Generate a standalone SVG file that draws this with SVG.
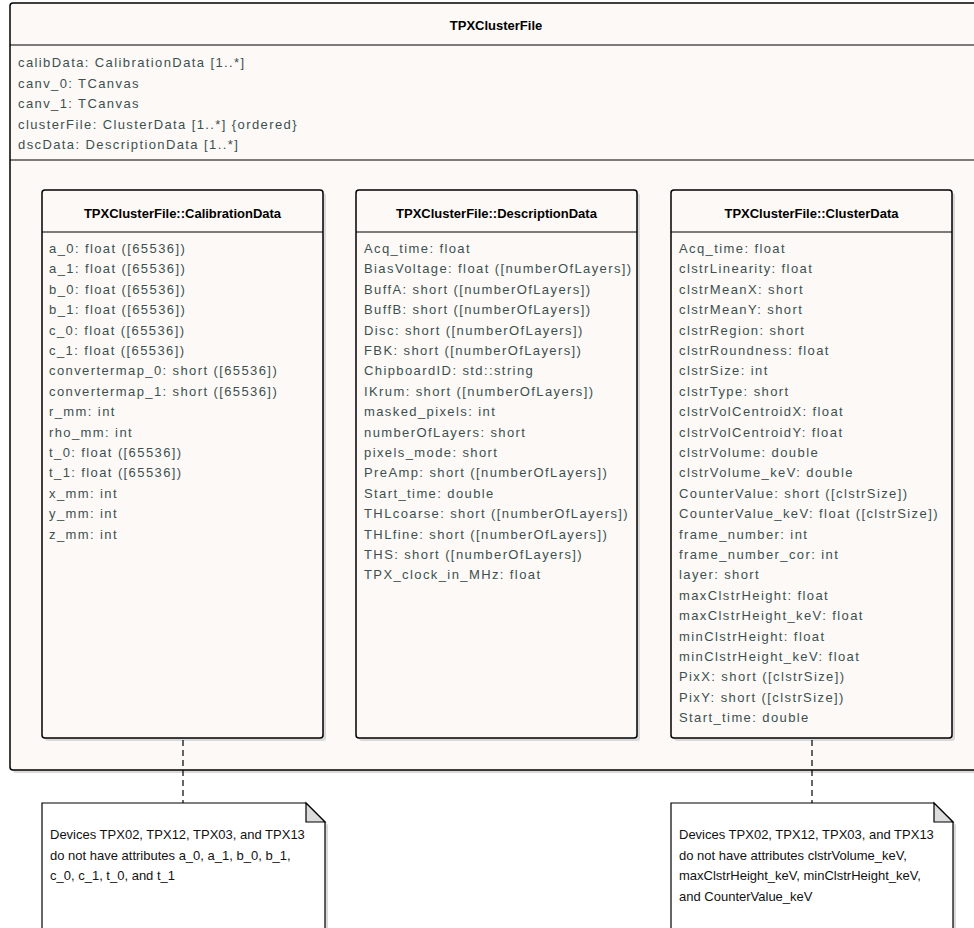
<svg xmlns="http://www.w3.org/2000/svg" width="974" height="928" viewBox="0 0 974 928">
  <style>
    .box { fill: #fcf9f6; stroke: #000; stroke-width: 1.5; }
    .shadow { fill: #d9d9d9; }
    .sep { stroke: #000; stroke-width: 1.2; }
    .title { font-family: "Liberation Sans", Arial, sans-serif; font-size: 13px; font-weight: bold; fill: #000; text-anchor: middle; }
    .attr { font-family: "Liberation Sans", Arial, sans-serif; font-size: 13px; fill: #3c5050; letter-spacing: 1.4px; }
    .note { fill: #ffffff; stroke: #000; stroke-width: 1.2; }
    .fold { fill: #dcdcdc; stroke: #000; stroke-width: 1.2; }
    .notetext { font-family: "Liberation Sans", Arial, sans-serif; font-size: 13px; fill: #111; }
    .link { stroke: #000; stroke-width: 1.2; stroke-dasharray: 6 4; fill: none; }
  </style>

  <rect width="974" height="928" fill="#ffffff"/>

  <!-- Enclosing class TPXClusterFile -->
  <g id="TPXClusterFile">
    <rect class="shadow" x="13" y="6" width="972" height="767" rx="3"/>
    <rect class="box" x="10" y="3" width="972" height="767" rx="3"/>
    <line class="sep" x1="10" y1="45" x2="982" y2="45"/>
    <line class="sep" x1="10" y1="160" x2="982" y2="160"/>
    <text class="title" x="496" y="30">TPXClusterFile</text>
    <text class="attr" x="18" y="67">calibData: CalibrationData [1..*]</text>
    <text class="attr" x="18" y="87.5">canv_0: TCanvas</text>
    <text class="attr" x="18" y="108">canv_1: TCanvas</text>
    <text class="attr" x="18" y="128.5">clusterFile: ClusterData [1..*] {ordered}</text>
    <text class="attr" x="18" y="149">dscData: DescriptionData [1..*]</text>
  </g>

  <!-- Nested class CalibrationData -->
  <g id="CalibrationData">
    <rect class="shadow" x="45" y="193" width="281" height="548" rx="3"/>
    <rect class="box" x="42" y="190" width="281" height="548" rx="3"/>
    <line class="sep" x1="42" y1="232" x2="323" y2="232"/>
    <text class="title" x="182.5" y="218">TPXClusterFile::CalibrationData</text>
    <text class="attr" x="49" y="253">a_0: float ([65536])</text>
    <text class="attr" x="49" y="273.4">a_1: float ([65536])</text>
    <text class="attr" x="49" y="293.8">b_0: float ([65536])</text>
    <text class="attr" x="49" y="314.2">b_1: float ([65536])</text>
    <text class="attr" x="49" y="334.6">c_0: float ([65536])</text>
    <text class="attr" x="49" y="355">c_1: float ([65536])</text>
    <text class="attr" x="49" y="375.4">convertermap_0: short ([65536])</text>
    <text class="attr" x="49" y="395.8">convertermap_1: short ([65536])</text>
    <text class="attr" x="49" y="416.2">r_mm: int</text>
    <text class="attr" x="49" y="436.6">rho_mm: int</text>
    <text class="attr" x="49" y="457">t_0: float ([65536])</text>
    <text class="attr" x="49" y="477.4">t_1: float ([65536])</text>
    <text class="attr" x="49" y="497.8">x_mm: int</text>
    <text class="attr" x="49" y="518.2">y_mm: int</text>
    <text class="attr" x="49" y="538.6">z_mm: int</text>
  </g>

  <!-- Nested class DescriptionData -->
  <g id="DescriptionData">
    <rect class="shadow" x="359" y="193" width="281" height="548" rx="3"/>
    <rect class="box" x="356" y="190" width="281" height="548" rx="3"/>
    <line class="sep" x1="356" y1="232" x2="637" y2="232"/>
    <text class="title" x="496.5" y="218">TPXClusterFile::DescriptionData</text>
    <text class="attr" x="364" y="253">Acq_time: float</text>
    <text class="attr" x="364" y="273.4">BiasVoltage: float ([numberOfLayers])</text>
    <text class="attr" x="364" y="293.8">BuffA: short ([numberOfLayers])</text>
    <text class="attr" x="364" y="314.2">BuffB: short ([numberOfLayers])</text>
    <text class="attr" x="364" y="334.6">Disc: short ([numberOfLayers])</text>
    <text class="attr" x="364" y="355">FBK: short ([numberOfLayers])</text>
    <text class="attr" x="364" y="375.4">ChipboardID: std::string</text>
    <text class="attr" x="364" y="395.8">IKrum: short ([numberOfLayers])</text>
    <text class="attr" x="364" y="416.2">masked_pixels: int</text>
    <text class="attr" x="364" y="436.6">numberOfLayers: short</text>
    <text class="attr" x="364" y="457">pixels_mode: short</text>
    <text class="attr" x="364" y="477.4">PreAmp: short ([numberOfLayers])</text>
    <text class="attr" x="364" y="497.8">Start_time: double</text>
    <text class="attr" x="364" y="518.2">THLcoarse: short ([numberOfLayers])</text>
    <text class="attr" x="364" y="538.6">THLfine: short ([numberOfLayers])</text>
    <text class="attr" x="364" y="559">THS: short ([numberOfLayers])</text>
    <text class="attr" x="364" y="579.4">TPX_clock_in_MHz: float</text>
  </g>

  <!-- Nested class ClusterData -->
  <g id="ClusterData">
    <rect class="shadow" x="674" y="193" width="281" height="548" rx="3"/>
    <rect class="box" x="671" y="190" width="281" height="548" rx="3"/>
    <line class="sep" x1="671" y1="232" x2="952" y2="232"/>
    <text class="title" x="811.5" y="218">TPXClusterFile::ClusterData</text>
    <text class="attr" x="679" y="253">Acq_time: float</text>
    <text class="attr" x="679" y="273.4">clstrLinearity: float</text>
    <text class="attr" x="679" y="293.8">clstrMeanX: short</text>
    <text class="attr" x="679" y="314.2">clstrMeanY: short</text>
    <text class="attr" x="679" y="334.6">clstrRegion: short</text>
    <text class="attr" x="679" y="355">clstrRoundness: float</text>
    <text class="attr" x="679" y="375.4">clstrSize: int</text>
    <text class="attr" x="679" y="395.8">clstrType: short</text>
    <text class="attr" x="679" y="416.2">clstrVolCentroidX: float</text>
    <text class="attr" x="679" y="436.6">clstrVolCentroidY: float</text>
    <text class="attr" x="679" y="457">clstrVolume: double</text>
    <text class="attr" x="679" y="477.4">clstrVolume_keV: double</text>
    <text class="attr" x="679" y="497.8">CounterValue: short ([clstrSize])</text>
    <text class="attr" x="679" y="518.2">CounterValue_keV: float ([clstrSize])</text>
    <text class="attr" x="679" y="538.6">frame_number: int</text>
    <text class="attr" x="679" y="559">frame_number_cor: int</text>
    <text class="attr" x="679" y="579.4">layer: short</text>
    <text class="attr" x="679" y="599.8">maxClstrHeight: float</text>
    <text class="attr" x="679" y="620.2">maxClstrHeight_keV: float</text>
    <text class="attr" x="679" y="640.6">minClstrHeight: float</text>
    <text class="attr" x="679" y="661">minClstrHeight_keV: float</text>
    <text class="attr" x="679" y="681.4">PixX: short ([clstrSize])</text>
    <text class="attr" x="679" y="701.8">PixY: short ([clstrSize])</text>
    <text class="attr" x="679" y="722.2">Start_time: double</text>
  </g>

  <!-- Note attachments -->
  <g id="connectors">
    <line class="link" x1="183" y1="740" x2="183" y2="803"/>
    <line class="link" x1="812" y1="740" x2="812" y2="803"/>
  </g>

  <!-- Note on CalibrationData -->
  <g id="NoteCalibration">
    <path class="shadow" d="M45 806 H309 L328 825 V931 H45 Z"/>
    <path class="note" d="M42 803 H306 L325 822 V930 H42 Z"/>
    <path class="fold" d="M306 803 V822 H325 Z"/>
    <text class="notetext" x="50" y="839">Devices TPX02, TPX12, TPX03, and TPX13</text>
    <text class="notetext" x="50" y="859.5">do not have attributes a_0, a_1, b_0, b_1,</text>
    <text class="notetext" x="50" y="880">c_0, c_1, t_0, and t_1</text>
  </g>

  <!-- Note on ClusterData -->
  <g id="NoteCluster">
    <path class="shadow" d="M674 806 H937 L956 825 V931 H674 Z"/>
    <path class="note" d="M671 803 H934 L953 822 V930 H671 Z"/>
    <path class="fold" d="M934 803 V822 H953 Z"/>
    <text class="notetext" x="679" y="839">Devices TPX02, TPX12, TPX03, and TPX13</text>
    <text class="notetext" x="679" y="859.5">do not have attributes clstrVolume_keV,</text>
    <text class="notetext" x="679" y="880">maxClstrHeight_keV, minClstrHeight_keV,</text>
    <text class="notetext" x="679" y="900.5">and CounterValue_keV</text>
  </g>
</svg>
